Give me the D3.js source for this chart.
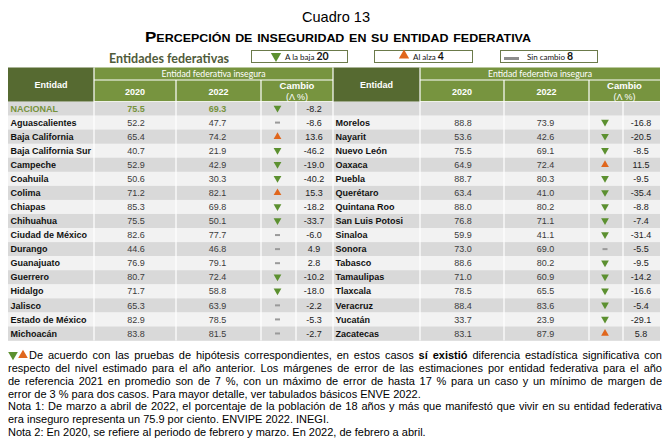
<!DOCTYPE html>
<html><head><meta charset="utf-8">
<script src="https://cdn.jsdelivr.net/npm/d3@7"></script>
<style>body{margin:0;background:#fff} svg{display:block}</style>
</head><body><svg id="c" width="670" height="444"></svg>
<script>
// ---------------- DATA ----------------
const leftNames = ["NACIONAL","Aguascalientes","Baja California","Baja California Sur","Campeche","Coahuila","Colima","Chiapas","Chihuahua","Ciudad de México","Durango","Guanajuato","Guerrero","Hidalgo","Jalisco","Estado de México","Michoacán"];
const left2020 = [75.5,52.2,65.4,40.7,52.9,50.6,71.2,85.3,75.5,82.6,44.6,76.9,80.7,71.7,65.3,82.9,83.8];
const left2022 = [69.3,47.7,74.2,21.9,42.9,30.3,82.1,69.8,50.1,77.7,46.8,79.1,72.4,58.8,63.9,78.5,81.5];
const leftChange = [-8.2,-8.6,13.6,-46.2,-19.0,-40.2,15.3,-18.2,-33.7,-6.0,4.9,2.8,-10.2,-18.0,-2.2,-5.3,-2.7];
const leftTrend = ["down","same","up","down","down","down","up","down","down","same","same","same","down","down","same","same","same"];

const rightNames = ["Morelos","Nayarit","Nuevo León","Oaxaca","Puebla","Querétaro","Quintana Roo","San Luis Potosi","Sinaloa","Sonora","Tabasco","Tamaulipas","Tlaxcala","Veracruz","Yucatán","Zacatecas"];
const right2020 = [88.8,53.6,75.5,64.9,88.7,63.4,88.0,76.8,59.9,73.0,88.6,71.0,78.5,88.4,33.7,83.1];
const right2022 = [73.9,42.6,69.1,72.4,80.3,41.0,80.2,71.1,41.1,69.0,80.2,60.9,65.5,83.6,23.9,87.9];
const rightChange = [-16.8,-20.5,-8.5,11.5,-9.5,-35.4,-8.8,-7.4,-31.4,-5.5,-9.5,-14.2,-16.6,-5.4,-29.1,5.8];
const rightTrend = ["down","down","down","up","down","down","down","down","down","same","down","down","down","down","down","up"];

const headerCols = ["2020","2022"];
const legendLabels = {down:"A la baja ", up:"Al alza ", same:"Sin cambio "};

// ---------------- STYLE / LAYOUT ----------------
const svg = d3.select("#c");
const C = {dark:"#566a31", mid:"#77943f", rowA:"#d9d9d9", rowB:"#f2f2f2",
  down:"#5c9030", up:"#e0661c", same:"#9a9a9a", name:"#111", val:"#3c3c3c", nat:"#76923c"};
const SANS = "'Liberation Sans', Arial, sans-serif";
const CAL = "Lato, 'Open Sans', sans-serif";

svg.append("rect").attr("width",670).attr("height",444).attr("fill","#fff");

// Titles
svg.append("text").attr("x",336).attr("y",22).attr("text-anchor","middle")
  .attr("font-family",SANS).attr("font-size",15).attr("fill","#000")
  .attr("textLength",68).attr("lengthAdjust","spacingAndGlyphs").text("Cuadro 13");
svg.append("text").attr("x",338).attr("y",42).attr("text-anchor","middle")
  .attr("font-family",SANS).attr("font-size",15).attr("font-weight","bold")
  .style("font-variant","small-caps").attr("fill","#000")
  .attr("textLength",386).attr("lengthAdjust","spacingAndGlyphs")
  .text("Percepción de inseguridad en su entidad federativa");

// Legend
svg.append("text").attr("x",109).attr("y",63).attr("font-family",CAL).attr("font-size",14)
  .attr("font-weight","bold").attr("fill","#505b3a").attr("textLength",120)
  .attr("lengthAdjust","spacingAndGlyphs").text("Entidades federativas");

const allTrend = leftTrend.slice(1).concat(rightTrend);
const counts = d3.rollup(allTrend, v=>v.length, d=>d);
const legendItems = [
  {k:"down", x0:251, x1:347},
  {k:"up", x0:374, x1:472},
  {k:"same", x0:500, x1:597}
];
const sym = (k, size) => d3.symbol().type(d3.symbolTriangle).size(size)();
legendItems.forEach(it=>{
  const g = svg.append("g");
  g.append("rect").attr("x",it.x0+0.5).attr("y",50.5).attr("width",it.x1-it.x0).attr("height",12)
    .attr("fill","#fff").attr("stroke","#6b7a4a").attr("stroke-width",1);
  let tx;
  if(it.k==="same"){
    g.append("rect").attr("x",it.x0+4).attr("y",57).attr("width",15).attr("height",3).attr("fill","#8c8c8c");
    tx = it.x0+27;
  } else {
    const cx = it.k==="down"? it.x0+25 : it.x0+30;
    g.append("path").attr("d",sym(it.k,46))
      .attr("transform",`translate(${cx},${it.k==="down"?56:55.5}) rotate(${it.k==="down"?180:0})`)
      .attr("fill",C[it.k]);
    tx = cx+9;
  }
  const t = g.append("text").attr("x",tx).attr("y",60).attr("font-family",CAL).attr("fill","#111");
  t.append("tspan").attr("font-size",8).text(legendLabels[it.k]);
  t.append("tspan").attr("font-size",10.5).attr("font-weight","bold").text(counts.get(it.k)||0);
});

// Table
const tableTop = 67.5, bandBottom = 80, headBottom = 101.5, tableBottom = 340.5;
const y = d3.scaleBand().domain(d3.range(17)).range([headBottom, tableBottom]);

const sections = [
  {x:[8,94,176,261,296,333], names:leftNames, v20:left2020, v22:left2022, ch:leftChange, tr:leftTrend, off:0, valX:314},
  {x:[333,420,504,589,623,660], names:rightNames, v20:right2020, v22:right2022, ch:rightChange, tr:rightTrend, off:1, valX:641}
];

sections.forEach(s=>{
  const [x0,x1,x2,x3,x4,x5] = s.x;
  svg.append("g").selectAll("rect").data(d3.range(17)).join("rect")
    .attr("x",x0).attr("y",d=>y(d)).attr("width",x5-x0).attr("height",y.bandwidth()+0.3)
    .attr("fill",d=>d%2===0?C.rowA:C.rowB);
  svg.append("rect").attr("x",x0).attr("y",tableTop).attr("width",x1-x0).attr("height",headBottom-tableTop).attr("fill",C.dark);
  svg.append("rect").attr("x",x1).attr("y",tableTop).attr("width",x5-x1).attr("height",headBottom-tableTop).attr("fill",C.mid);
  const lines = svg.append("g").attr("stroke","#fff").attr("stroke-width",1.2);
  lines.append("line").attr("x1",x1).attr("x2",x5).attr("y1",bandBottom).attr("y2",bandBottom);
  [x2,x3].forEach(xx=>lines.append("line").attr("x1",xx).attr("x2",xx).attr("y1",bandBottom).attr("y2",tableBottom));
  lines.append("line").attr("x1",x4).attr("x2",x4).attr("y1",headBottom).attr("y2",tableBottom);
  lines.append("line").attr("x1",x1).attr("x2",x1).attr("y1",tableTop).attr("y2",tableBottom);
  lines.append("line").attr("x1",x1).attr("x2",x5).attr("y1",headBottom).attr("y2",headBottom).attr("stroke-width",0.8);
  svg.append("text").attr("x",(x0+x1)/2).attr("y",87.5).attr("text-anchor","middle")
    .attr("font-family",SANS).attr("font-weight","bold").attr("font-size",9).attr("fill","#fff").text("Entidad");
  svg.append("text").attr("x",(x1+x5)/2).attr("y",77.3).attr("text-anchor","middle")
    .attr("font-family",CAL).attr("font-size",8.5).attr("fill","#fff")
    .attr("textLength",104).attr("lengthAdjust","spacingAndGlyphs").text("Entidad federativa insegura");
  [[x1,x2],[x2,x3]].forEach((c,i)=>svg.append("text").attr("x",(c[0]+c[1])/2).attr("y",94.5)
    .attr("text-anchor","middle").attr("font-family",SANS).attr("font-weight","bold").attr("font-size",9)
    .attr("fill","#fff").text(headerCols[i]));
  svg.append("text").attr("x",(x3+x5)/2).attr("y",88.5).attr("text-anchor","middle")
    .attr("font-family",SANS).attr("font-weight","bold").attr("font-size",9.5).attr("fill","#fff").text("Cambio");
  svg.append("text").attr("x",(x3+x5)/2).attr("y",100).attr("text-anchor","middle")
    .attr("font-family",SANS).attr("font-size",9).attr("fill","#fff").text("(Λ %)");

  const rows = s.names.map((n,i)=>({i:i+s.off, n, a:s.v20[i], b:s.v22[i], c:s.ch[i], t:s.tr[i]}));
  const g = svg.append("g");
  const cy = d => y(d.i) + y.bandwidth()/2 + 3.2;
  g.selectAll(".nm").data(rows).join("text").attr("x",x0+2.5).attr("y",cy)
    .attr("font-family",SANS).attr("font-weight","bold").attr("font-size",9)
    .attr("fill",d=>d.n==="NACIONAL"?C.nat:C.name).text(d=>d.n);
  g.selectAll(".a").data(rows).join("text").attr("x",(x1+x2)/2+1).attr("y",cy).attr("text-anchor","middle")
    .attr("font-family",SANS).attr("font-size",9).attr("fill",d=>d.n==="NACIONAL"?C.nat:C.val)
    .attr("font-weight",d=>d.n==="NACIONAL"?"bold":"normal").text(d=>d.a.toFixed(1));
  g.selectAll(".b").data(rows).join("text").attr("x",(x2+x3)/2-1).attr("y",cy).attr("text-anchor","middle")
    .attr("font-family",SANS).attr("font-size",9).attr("fill",d=>d.n==="NACIONAL"?C.nat:C.val)
    .attr("font-weight",d=>d.n==="NACIONAL"?"bold":"normal").text(d=>d.b.toFixed(1));
  g.selectAll(".c").data(rows).join("text").attr("x",s.valX).attr("y",cy).attr("text-anchor","middle")
    .attr("font-family",SANS).attr("font-size",9).attr("fill","#222").text(d=>d.c.toFixed(1));
  const ax = (x3+x4)/2 - 1;
  g.selectAll(".tri").data(rows.filter(d=>d.t!=="same")).join("path")
    .attr("d",sym("",26))
    .attr("transform",d=>`translate(${ax},${y(d.i)+y.bandwidth()/2+ (d.t==="down"?-0.5:0)}) rotate(${d.t==="down"?180:0})`)
    .attr("fill",d=>C[d.t]);
  g.selectAll(".dash").data(rows.filter(d=>d.t==="same")).join("rect")
    .attr("x",ax-2.5).attr("y",d=>y(d.i)+y.bandwidth()/2-1).attr("width",5).attr("height",2).attr("fill",C.same);
});
svg.append("line").attr("x1",333).attr("x2",333).attr("y1",tableTop).attr("y2",tableBottom)
  .attr("stroke","#fff").attr("stroke-width",1.2);

// Footer
const foot = [
  {segs:[{t:"De acuerdo con las pruebas de hipótesis correspondientes, en estos casos "},{t:"sí existió",b:1},{t:" diferencia estadística significativa con"}], x:29, w:633, arrows:true},
  {segs:[{t:"respecto del nivel estimado para el año anterior. Los márgenes de error de las estimaciones por entidad federativa para el año"}], x:8, w:654},
  {segs:[{t:"de referencia 2021 en promedio son de 7 %, con un máximo de error de hasta 17 % para un caso y un mínimo de margen de"}], x:8, w:654},
  {segs:[{t:"error de 3 % para dos casos. Para mayor detalle, ver tabulados básicos ENVE 2022."}], x:8},
  {segs:[{t:"Nota 1: De marzo a abril de 2022, el porcentaje de la población de 18 años y más que manifestó que vivir en su entidad federativa"}], x:8, w:654},
  {segs:[{t:"era inseguro representa un 75.9 por ciento. ENVIPE 2022. INEGI."}], x:8},
  {segs:[{t:"Nota 2: En 2020, se refiere al periodo de febrero y marzo. En 2022, de febrero a abril."}], x:8}
];
const fy0 = 358.8, fdy = 12.9;
foot.forEach((ln,i)=>{
  const yy = fy0 + i*fdy;
  const t = svg.append("text").attr("x",ln.x).attr("y",yy).attr("font-family",SANS)
    .attr("font-size",11).attr("fill","#000");
  ln.segs.forEach(s=>t.append("tspan").attr("font-weight",s.b?"bold":"normal").text(s.t));
  if(ln.w){
    const nat = t.node().getComputedTextLength();
    const spaces = ln.segs.map(s=>s.t).join("").split(" ").length-1;
    t.attr("word-spacing",(ln.w-nat)/spaces);
  }
  if(ln.arrows){
    svg.append("path").attr("d",sym("",40)).attr("transform",`translate(13,${yy-4}) rotate(180)`).attr("fill",C.down);
    svg.append("path").attr("d",sym("",40)).attr("transform",`translate(23,${yy-3.5})`).attr("fill",C.up);
  }
});
</script></body></html>
